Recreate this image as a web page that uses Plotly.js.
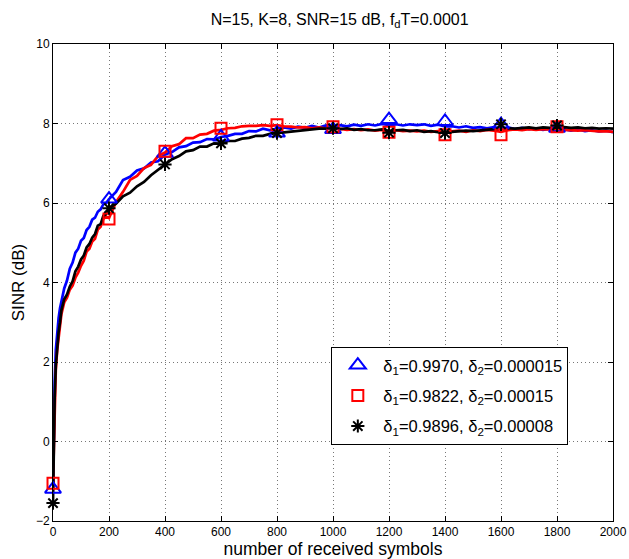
<!DOCTYPE html>
<html>
<head>
<meta charset="utf-8">
<script src="https://cdn.plot.ly/plotly-3.0.1.min.js"></script>
<style>html,body{margin:0;padding:0;background:#fff;}#chart{width:629px;height:559px;}</style>
</head>
<body>
<div id="chart"></div>
<script>
// Sample positions (number of received symbols)
const xSym = [0,3,6,10,15,20,25,30,40,50,60,70,80,90,100,110,120,130,140,150,160,170,180,190,200,
  225,250,275,300,325,350,375,400,425,450,475,500,525,550,575,600,625,650,675,700,725,750,775,800,
  825,850,875,900,925,950,975,1000,1025,1050,1075,1100,1125,1150,1175,1200,1225,1250,1275,1300,
  1325,1350,1375,1400,1425,1450,1475,1500,1525,1550,1575,1600,1625,1650,1675,1700,1725,1750,1775,1800,
  1825,1850,1875,1900,1925,1950,1975,2000];

// SINR (dB) curves
const sinrBlue = [-1.2,0.6,1.5,2.3,2.8,3.1,3.35,3.5,3.85,4.05,4.35,4.5,4.75,4.85,5.05,5.12,5.32,5.4,5.58,5.63,5.78,5.84,5.97,6.0,6.1,
  6.28,6.58,6.66,6.82,6.87,7.02,7.05,7.22,7.28,7.4,7.43,7.52,7.53,7.61,7.6,7.66,7.69,7.74,7.74,7.81,7.8,7.87,7.83,7.87,
  7.9,7.87,7.92,7.89,7.94,7.9,7.95,7.92,7.96,7.93,7.97,7.94,7.98,7.95,7.99,7.96,7.98,7.95,7.98,7.96,
  7.98,7.94,7.97,7.93,7.93,7.9,7.93,7.89,7.91,7.88,7.91,7.87,7.9,7.86,7.89,7.86,7.88,7.84,7.87,7.83,
  7.86,7.82,7.85,7.81,7.83,7.8,7.82,7.78];
const sinrRed = [-1.05,0.0,1.0,1.8,2.3,2.6,2.95,3.2,3.5,3.62,3.82,3.92,4.12,4.25,4.42,4.55,4.78,4.85,5.03,5.1,5.33,5.4,5.6,5.66,5.62,
  6.02,6.28,6.58,6.68,6.88,6.96,7.18,7.27,7.43,7.48,7.63,7.63,7.72,7.74,7.82,7.84,7.88,7.89,7.93,7.94,7.94,7.96,7.94,7.96,
  7.93,7.92,7.9,7.91,7.88,7.9,7.87,7.89,7.86,7.84,7.86,7.83,7.85,7.82,7.84,7.8,7.83,7.81,7.82,7.8,
  7.82,7.79,7.81,7.77,7.8,7.82,7.79,7.83,7.81,7.84,7.82,7.79,7.83,7.85,7.83,7.86,7.84,7.86,7.85,7.87,
  7.84,7.83,7.82,7.83,7.81,7.8,7.81,7.79];
const sinrBlack = [-1.55,0.1,1.1,1.9,2.4,2.75,3.0,3.3,3.58,3.7,3.9,4.03,4.28,4.4,4.58,4.68,4.88,4.97,5.13,5.22,5.43,5.47,5.68,5.72,5.87,
  5.98,6.17,6.26,6.42,6.53,6.7,6.83,6.97,7.1,7.18,7.3,7.33,7.42,7.42,7.5,7.49,7.56,7.56,7.62,7.64,7.69,7.69,7.74,7.76,
  7.78,7.8,7.82,7.84,7.85,7.87,7.87,7.89,7.86,7.88,7.84,7.86,7.83,7.83,7.85,7.81,7.83,7.84,7.81,7.83,
  7.79,7.81,7.78,7.77,7.79,7.8,7.82,7.81,7.83,7.84,7.86,7.87,7.88,7.87,7.89,7.9,7.88,7.9,7.89,7.9,
  7.91,7.89,7.9,7.88,7.89,7.87,7.88,7.87];

// Marker positions
const xMark = [0,200,400,600,800,1000,1200,1400,1600,1800];
const markBlue  = [-1.2,6.1,7.25,7.66,7.76,7.85,8.1,8.05,7.97,7.88];
const markRed   = [-1.05,5.6,7.3,7.88,7.97,7.92,7.78,7.72,7.72,7.92];
const markBlack = [-1.55,5.87,6.97,7.5,7.76,7.88,7.77,7.76,7.98,7.95];

const legendNames = [
  "δ<sub>1</sub>=0.9970, δ<sub>2</sub>=0.000015",
  "δ<sub>1</sub>=0.9822, δ<sub>2</sub>=0.00015",
  "δ<sub>1</sub>=0.9896, δ<sub>2</sub>=0.00008"
];
const xTicks = [0,200,400,600,800,1000,1200,1400,1600,1800,2000];
const yTicks = [-2,0,2,4,6,8,10];

const colors = ["#0000ff","#ff0000","#000000"];
const lines = [sinrBlue, sinrRed, sinrBlack];
const marks = [markBlue, markRed, markBlack];
const symbols = ["triangle-up-open","square-open","asterisk-open"];
const sizes = [14,11,11];

const traces = [];
for (let i=0;i<3;i++){
  traces.push({x:xSym, y:lines[i], type:'scatter', mode:'lines',
    line:{color:colors[i], width:2.7}, showlegend:false, hoverinfo:'skip'});
}
for (let i=0;i<3;i++){
  traces.push({x:xMark, y:marks[i], type:'scatter', mode:'markers', name:legendNames[i],
    legendgroup:'g'+i,
    marker:{symbol:symbols[i], size:sizes[i], color:colors[i], line:{color:colors[i], width:2}},
    cliponaxis:false});
}

const axisCommon = {
  showline:true, linecolor:'#000', linewidth:1, mirror:'ticks',
  ticks:'inside', ticklen:5, tickcolor:'#000',
  showgrid:true, gridcolor:'#777', griddash:'1px,3px', gridwidth:1,
  zeroline:false, tickfont:{family:'Liberation Sans, Arial, sans-serif', size:12, color:'#000'}
};

const layout = {
  width:629, height:559,
  margin:{l:53, r:16, t:44, b:38},
  paper_bgcolor:'#fff', plot_bgcolor:'#fff',
  font:{family:'Liberation Sans, Arial, sans-serif', color:'#000'},
  title:{text:'N=15, K=8, SNR=15 dB, f<sub>d</sub>T=0.0001', x:0.54, xanchor:'center', y:0.966, yanchor:'middle',
    font:{size:16, color:'#000'}},
  xaxis:Object.assign({}, axisCommon, {range:[0,2000], tickvals:xTicks, ticktext:xTicks.map(String),
    title:{text:'number of received symbols', font:{size:17.5}, standoff:1}}),
  yaxis:Object.assign({}, axisCommon, {range:[-2,10], tickvals:yTicks,
    title:{text:'SINR (dB)', font:{size:17}, standoff:6}}),
  legend:{x:0.497, y:0.365, xanchor:'left', yanchor:'top', bgcolor:'#fff', bordercolor:'#000', borderwidth:1,
    font:{size:16.5, color:'#000'}, tracegroupgap:6, itemwidth:41},
  showlegend:true
};

Plotly.newPlot('chart', traces, layout, {displayModeBar:false, staticPlot:true});
</script>
</body>
</html>
